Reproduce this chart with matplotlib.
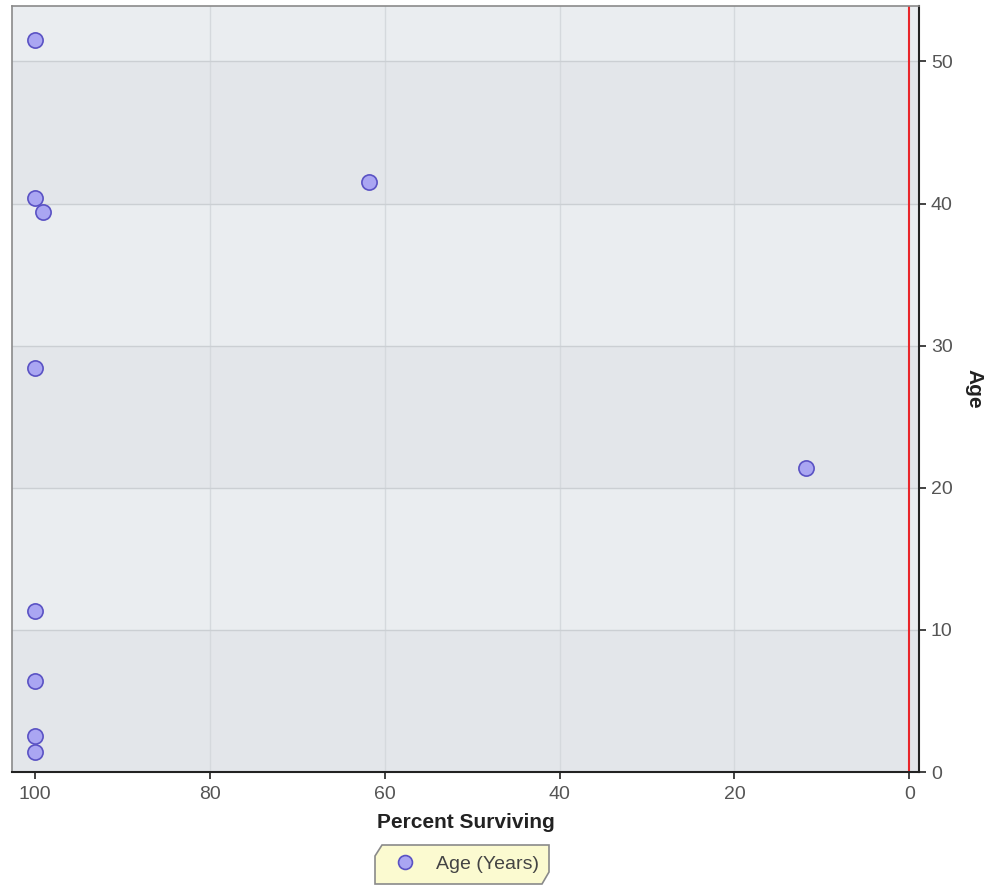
import matplotlib
matplotlib.use("Agg")
import matplotlib.pyplot as plt
from matplotlib.path import Path
from matplotlib.lines import Line2D

plt.rcParams['font.family'] = ['Liberation Sans', 'DejaVu Sans']

percent_surviving = [100, 100, 99, 61.8, 100, 11.8, 100, 100, 100, 100]
age_years = [51.5, 40.4, 39.4, 41.5, 28.4, 21.4, 11.3, 6.4, 2.5, 1.4]
x_ticks = [100, 80, 60, 40, 20, 0]
y_ticks = [0, 10, 20, 30, 40, 50]
series_label = "Age (Years)"

fig = plt.figure(figsize=(9.87, 8.88), dpi=100)
ax = fig.add_axes([12/987, 1 - 772/888, (919 - 12)/987, (772 - 6)/888])

ax.set_xlim(102.6, -1.1)
ax.set_ylim(0, 53.9)

ax.set_facecolor('#eaedf0')
for lo in (0, 20, 40):
    ax.axhspan(lo, lo + 10, color='#e3e6ea', zorder=0, lw=0)

for xv in (20, 40, 60, 80):
    ax.axvline(xv, color='#d5d9dd', lw=1, zorder=1)
for yv in (10, 20, 30, 40, 50):
    ax.axhline(yv, color='#cbcfd3', lw=1, zorder=1)

ax.axvline(0, color='#e8262a', lw=1.5, zorder=2)

ax.scatter(percent_surviving, age_years, s=120, facecolor='#aaa6f2',
           edgecolor='#5a52c4', linewidth=1.2, zorder=3)

ax.set_xticks(x_ticks)
ax.set_yticks(y_ticks)
ax.yaxis.tick_right()
ax.yaxis.set_label_position('right')
ax.tick_params(axis='both', labelsize=14, labelcolor='#555555', length=5,
               width=1.2, color='#222222', direction='out')
ax.tick_params(axis='x', pad=5)

for side in ('top', 'left'):
    ax.spines[side].set_color('#8a8a8a')
    ax.spines[side].set_linewidth(1.2)
for side in ('bottom', 'right'):
    ax.spines[side].set_color('#222222')
    ax.spines[side].set_linewidth(1.5)

ax.set_xlabel('Percent Surviving', fontsize=15, fontweight='bold', color='#222222', labelpad=7)
ax.set_ylabel('Age', fontsize=15, fontweight='bold', color='#222222', rotation=270, labelpad=22)


class Chamfer:
    def __call__(self, x0, y0, width, height, mutation_size):
        c = min(width, height) * 0.3
        x1, y1 = x0 + width, y0 + height
        verts = [(x0, y0), (x1 - c * 0.6, y0), (x1, y0 + c), (x1, y1),
                 (x0 + c * 0.6, y1), (x0, y1 - c), (x0, y0)]
        codes = [Path.MOVETO] + [Path.LINETO] * 5 + [Path.CLOSEPOLY]
        return Path(verts, codes)


handle = Line2D([], [], marker='o', linestyle='none', markersize=10,
                markerfacecolor='#aaa6f2', markeredgecolor='#5a52c4', markeredgewidth=1.2)
leg = fig.legend([handle], [series_label], loc='center',
                 bbox_to_anchor=(462/987, 1 - 864/888), fontsize=14,
                 frameon=True, facecolor='#fbfad0', edgecolor='#8a8a8a',
                 framealpha=1, handletextpad=0.6, borderpad=0.55)
leg.get_frame().set_boxstyle(Chamfer())
leg.get_frame().set_linewidth(1.2)
for t in leg.get_texts():
    t.set_color('#444444')

fig.savefig('out.png', dpi=100)
